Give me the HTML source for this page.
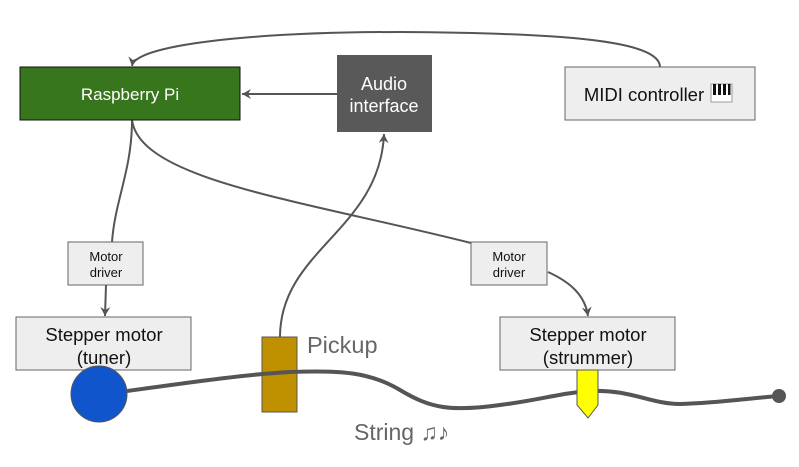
<!DOCTYPE html>
<html><head><meta charset="utf-8"><style>
body{margin:0;background:#fff;width:799px;height:462px;overflow:hidden}
svg text{font-family:"Liberation Sans",sans-serif}
</style></head><body>
<svg width="799" height="462" viewBox="0 0 799 462" xmlns="http://www.w3.org/2000/svg">
<defs><marker id="a" markerWidth="12" markerHeight="12" refX="10" refY="6" orient="auto" markerUnits="userSpaceOnUse"><path d="M1,1 L10,6 L1,11 L4,6 Z" fill="#555"/></marker></defs>
<g fill="none" stroke="#555" stroke-width="2">
<path d="M660,67 C660,40 560,33 400,32 C250,32 135,45 132,66" marker-end="url(#a)"/>
<path d="M337,94 L242,94" marker-end="url(#a)"/>
<path d="M132,120 C132,170 115,200 112,242"/>
<path d="M106,285 L105,316" marker-end="url(#a)"/>
<path d="M132,120 C140,180 300,200 471,243"/>
<path d="M548,272 C570,282 585,295 588,316" marker-end="url(#a)"/>
<path d="M280,337 C280,250 380,230 384,134" marker-end="url(#a)"/>
</g>
<rect x="20" y="67" width="220" height="53" fill="#38761d" stroke="#111" stroke-width="1"/>
<text x="130" y="100" font-size="17" fill="#fff" text-anchor="middle">Raspberry Pi</text>
<rect x="337" y="55" width="95" height="77" fill="#595959"/>
<text x="384" y="90" font-size="18" fill="#fff" text-anchor="middle">Audio</text>
<text x="384" y="112" font-size="18" fill="#fff" text-anchor="middle">interface</text>
<rect x="565" y="67" width="190" height="53" fill="#eee" stroke="#666"/>
<text x="644" y="101" font-size="18.5" fill="#111" text-anchor="middle">MIDI controller</text>
<g><rect x="711" y="84" width="21" height="18" fill="#fff" stroke="#999"/><rect x="713" y="84" width="3" height="11" fill="#111"/><rect x="718" y="84" width="3" height="11" fill="#111"/><rect x="723" y="84" width="3" height="11" fill="#111"/><rect x="728" y="84" width="2.5" height="11" fill="#111"/></g>
<rect x="68" y="242" width="75" height="43" fill="#eee" stroke="#666"/>
<text x="106" y="261" font-size="13" fill="#111" text-anchor="middle">Motor</text>
<text x="106" y="277" font-size="13" fill="#111" text-anchor="middle">driver</text>
<rect x="471" y="242" width="76" height="43" fill="#eee" stroke="#666"/>
<text x="509" y="261" font-size="13" fill="#111" text-anchor="middle">Motor</text>
<text x="509" y="277" font-size="13" fill="#111" text-anchor="middle">driver</text>
<rect x="16" y="317" width="175" height="53" fill="#eee" stroke="#666"/>
<text x="104" y="341" font-size="18.5" fill="#111" text-anchor="middle">Stepper motor</text>
<text x="104" y="364" font-size="18.5" fill="#111" text-anchor="middle">(tuner)</text>
<rect x="500" y="317" width="175" height="53" fill="#eee" stroke="#666"/>
<text x="588" y="341" font-size="18.5" fill="#111" text-anchor="middle">Stepper motor</text>
<text x="588" y="364" font-size="18.5" fill="#111" text-anchor="middle">(strummer)</text>
<rect x="262" y="337" width="35" height="75" fill="#bf9000" stroke="#555"/>
<path d="M127,391 C200,381 250,374 290,372 C340,370 370,372 400,390 C430,408 450,412 500,405 C540,400 560,393 590,391 C630,389 650,404 680,404 C720,403 750,398 779,396" fill="none" stroke="#555" stroke-width="4"/>
<circle cx="779" cy="396" r="7" fill="#555"/>
<circle cx="99" cy="394" r="28" fill="#1155cc" stroke="#555"/>
<path d="M577,370 L598,370 L598,405 L588,418 L577,405 Z" fill="#ff0" stroke="#555"/>
<text x="307" y="353" font-size="23.5" fill="#666">Pickup</text>
<text x="354" y="440" font-size="23" fill="#666">String ♫♪</text>
</svg>
</body></html>
